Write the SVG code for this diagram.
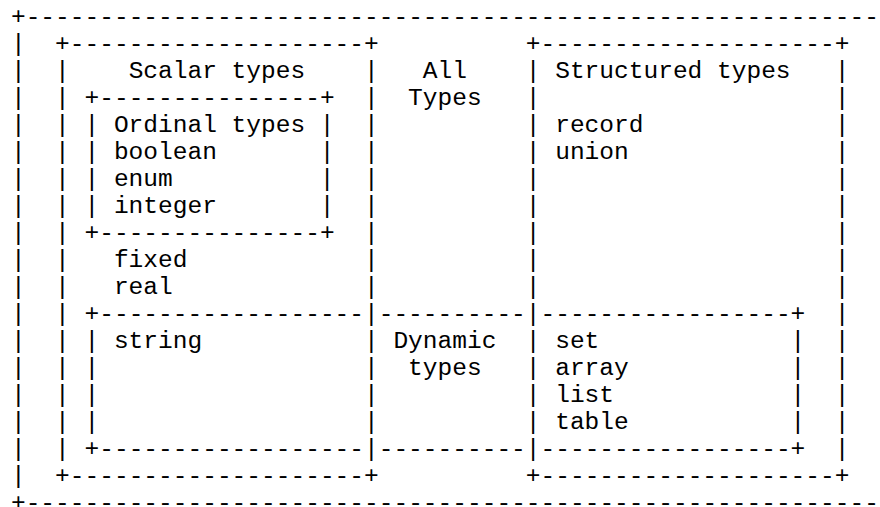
<svg xmlns="http://www.w3.org/2000/svg" width="880" height="507" viewBox="0 0 880 507">
<style>
text{font-family:"Liberation Mono","Courier New",monospace;font-size:24.52px;fill:#000}
</style>
<rect width="880" height="507" fill="#fff"/>
<g id="all-types">
<text x="10.95" y="24">+----------------------------------------------------------</text>
<text x="10.95" y="510">+----------------------------------------------------------</text>
<text x="10.95"><tspan x="10.95" y="51">|</tspan><tspan x="10.95" y="78">|</tspan><tspan x="10.95" y="105">|</tspan><tspan x="10.95" y="132">|</tspan><tspan x="10.95" y="159">|</tspan><tspan x="10.95" y="186">|</tspan><tspan x="10.95" y="213">|</tspan><tspan x="10.95" y="240">|</tspan><tspan x="10.95" y="267">|</tspan><tspan x="10.95" y="294">|</tspan><tspan x="10.95" y="321">|</tspan><tspan x="10.95" y="348">|</tspan><tspan x="10.95" y="375">|</tspan><tspan x="10.95" y="402">|</tspan><tspan x="10.95" y="429">|</tspan><tspan x="10.95" y="456">|</tspan><tspan x="10.95" y="483">|</tspan></text>
<text x="422.8" y="78">All</text>
<text x="408.1" y="105">Types</text>
</g>
<g id="scalar-types">
<text x="55.08" y="51">+--------------------+</text>
<text x="55.08" y="483">+--------------------+</text>
<text x="55.08"><tspan x="55.08" y="78">|</tspan><tspan x="55.08" y="105">|</tspan><tspan x="55.08" y="132">|</tspan><tspan x="55.08" y="159">|</tspan><tspan x="55.08" y="186">|</tspan><tspan x="55.08" y="213">|</tspan><tspan x="55.08" y="240">|</tspan><tspan x="55.08" y="267">|</tspan><tspan x="55.08" y="294">|</tspan><tspan x="55.08" y="321">|</tspan><tspan x="55.08" y="348">|</tspan><tspan x="55.08" y="375">|</tspan><tspan x="55.08" y="402">|</tspan><tspan x="55.08" y="429">|</tspan><tspan x="55.08" y="456">|</tspan></text>
<text x="364.0"><tspan x="364.0" y="78">|</tspan><tspan x="364.0" y="105">|</tspan><tspan x="364.0" y="132">|</tspan><tspan x="364.0" y="159">|</tspan><tspan x="364.0" y="186">|</tspan><tspan x="364.0" y="213">|</tspan><tspan x="364.0" y="240">|</tspan><tspan x="364.0" y="267">|</tspan><tspan x="364.0" y="294">|</tspan><tspan x="364.0" y="321">|</tspan><tspan x="364.0" y="348">|</tspan><tspan x="364.0" y="375">|</tspan><tspan x="364.0" y="402">|</tspan><tspan x="364.0" y="429">|</tspan><tspan x="364.0" y="456">|</tspan></text>
<text x="128.63" y="78">Scalar types</text>
<text x="113.92" y="267">fixed</text>
<text x="113.92" y="294">real</text>
</g>
<g id="ordinal-types">
<text x="84.5" y="105">+---------------+</text>
<text x="84.5" y="240">+---------------+</text>
<text x="84.5"><tspan x="84.5" y="132">|</tspan><tspan x="84.5" y="159">|</tspan><tspan x="84.5" y="186">|</tspan><tspan x="84.5" y="213">|</tspan></text>
<text x="319.86"><tspan x="319.86" y="132">|</tspan><tspan x="319.86" y="159">|</tspan><tspan x="319.86" y="186">|</tspan><tspan x="319.86" y="213">|</tspan></text>
<text x="113.92" y="132">Ordinal types</text>
<text x="113.92" y="159">boolean</text>
<text x="113.92" y="186">enum</text>
<text x="113.92" y="213">integer</text>
</g>
<g id="string-type">
<text x="84.5" y="321">+------------------</text>
<text x="84.5" y="456">+------------------</text>
<text x="84.5"><tspan x="84.5" y="348">|</tspan><tspan x="84.5" y="375">|</tspan><tspan x="84.5" y="402">|</tspan><tspan x="84.5" y="429">|</tspan></text>
<text x="113.92" y="348">string</text>
</g>
<g id="dynamic-types">
<text x="378.7" y="321">----------</text>
<text x="378.7" y="456">----------</text>
<text x="393.4" y="348">Dynamic</text>
<text x="408.1" y="375">types</text>
</g>
<g id="structured-types">
<text x="525.8" y="51">+--------------------+</text>
<text x="525.8" y="483">+--------------------+</text>
<text x="525.8"><tspan x="525.8" y="78">|</tspan><tspan x="525.8" y="105">|</tspan><tspan x="525.8" y="132">|</tspan><tspan x="525.8" y="159">|</tspan><tspan x="525.8" y="186">|</tspan><tspan x="525.8" y="213">|</tspan><tspan x="525.8" y="240">|</tspan><tspan x="525.8" y="267">|</tspan><tspan x="525.8" y="294">|</tspan><tspan x="525.8" y="321">|</tspan><tspan x="525.8" y="348">|</tspan><tspan x="525.8" y="375">|</tspan><tspan x="525.8" y="402">|</tspan><tspan x="525.8" y="429">|</tspan><tspan x="525.8" y="456">|</tspan></text>
<text x="834.7"><tspan x="834.7" y="78">|</tspan><tspan x="834.7" y="105">|</tspan><tspan x="834.7" y="132">|</tspan><tspan x="834.7" y="159">|</tspan><tspan x="834.7" y="186">|</tspan><tspan x="834.7" y="213">|</tspan><tspan x="834.7" y="240">|</tspan><tspan x="834.7" y="267">|</tspan><tspan x="834.7" y="294">|</tspan><tspan x="834.7" y="321">|</tspan><tspan x="834.7" y="348">|</tspan><tspan x="834.7" y="375">|</tspan><tspan x="834.7" y="402">|</tspan><tspan x="834.7" y="429">|</tspan><tspan x="834.7" y="456">|</tspan></text>
<text x="555.2" y="78">Structured types</text>
<text x="555.2" y="132">record</text>
<text x="555.2" y="159">union</text>
</g>
<g id="collection-types">
<text x="540.5" y="321">-----------------+</text>
<text x="540.5" y="456">-----------------+</text>
<text x="790.6"><tspan x="790.6" y="348">|</tspan><tspan x="790.6" y="375">|</tspan><tspan x="790.6" y="402">|</tspan><tspan x="790.6" y="429">|</tspan></text>
<text x="555.2" y="348">set</text>
<text x="555.2" y="375">array</text>
<text x="555.2" y="402">list</text>
<text x="555.2" y="429">table</text>
</g>
<g id="connectors"></g>
</svg>
